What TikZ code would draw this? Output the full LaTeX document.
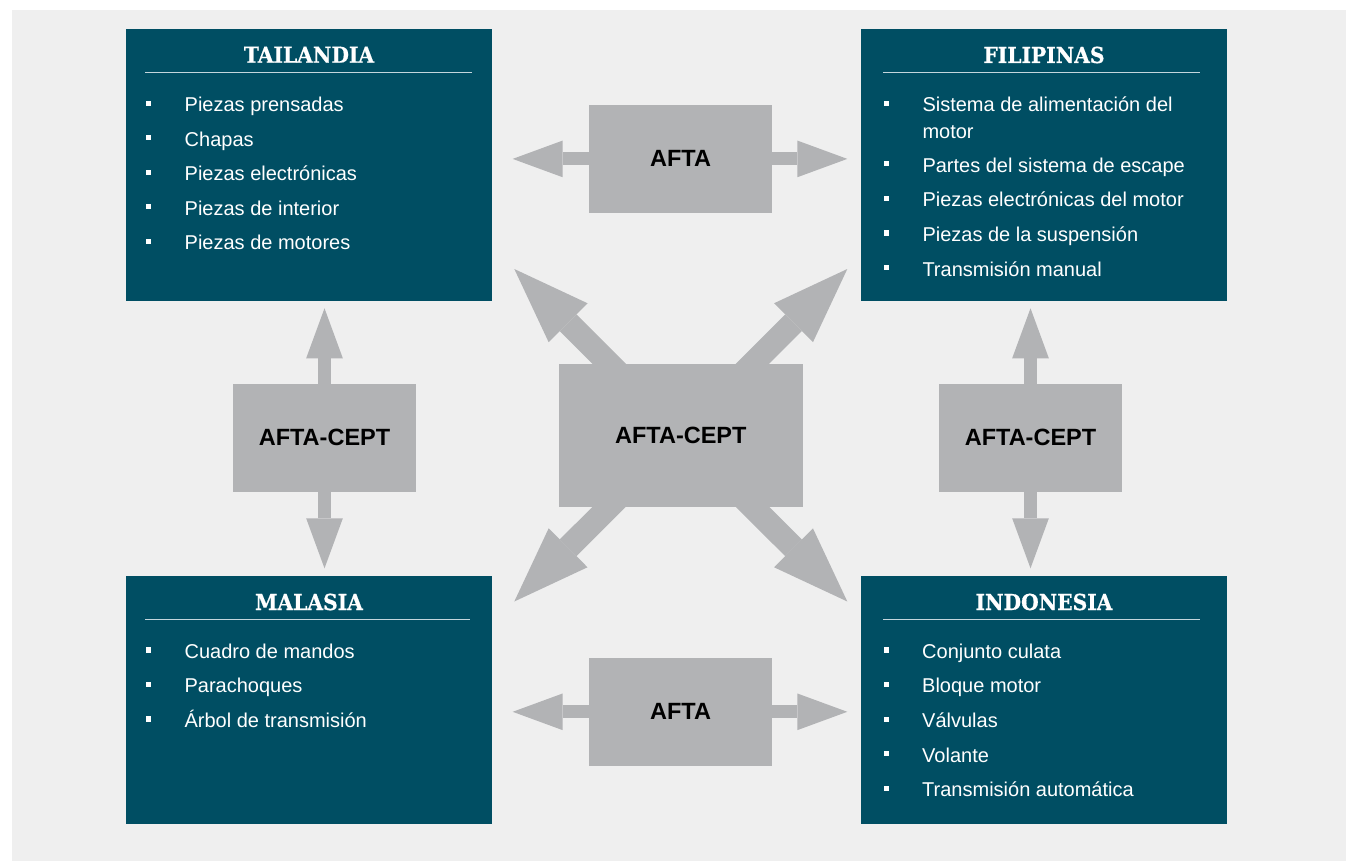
\documentclass[tikz,border=0pt]{standalone}
\usepackage{fontspec}
\setmainfont{Liberation Sans}
\newfontfamily\headfont{DejaVu Serif}[BoldFeatures={FakeStretch=0.92,FakeBold=0.6}]
\usetikzlibrary{arrows.meta}

\definecolor{panelgray}{RGB}{239,239,239}
\definecolor{countryteal}{RGB}{0,78,99}
\definecolor{blockgray}{RGB}{178,179,181}
\definecolor{rulecol}{RGB}{196,214,221}

\pgfdeclarelayer{panel}
\pgfdeclarelayer{links}
\pgfsetlayers{panel,links,main}

\tikzset{
  country/.style={fill=countryteal, inner sep=0pt, minimum width=366pt, minimum height=#1},
  heading/.style={anchor=base, inner sep=0pt, text=white,
    font=\headfont\bfseries\fontsize{22}{26}\selectfont},
  headrule/.style={draw=rulecol, line width=1.3pt},
  item/.style={anchor=base west, inner sep=0pt, text=white,
    font=\fontsize{20}{24}\selectfont},
  bulletmark/.style={fill=white, inner sep=0pt, minimum size=5.2pt},
  tradebox/.style={fill=blockgray, inner sep=0pt, text=black,
    font=\bfseries\fontsize{23.5}{28}\selectfont},
  hvlink/.style={draw=blockgray, line width=13pt,
    -{Triangle[length=50pt, width=36.7pt, line width=0pt]}},
  diaglink/.style={draw=blockgray, line width=23.6pt,
    -{Triangle[length=76pt, width=55pt, line width=0pt]}}
}

\begin{document}
\begin{tikzpicture}[x=1pt, y=-1pt]
\useasboundingbox (0,0) rectangle (1346,861);

\begin{pgfonlayer}{panel}
  \fill[white] (0,0) rectangle (1346,861);
  \fill[panelgray] (12,10) rectangle (1346,861);
\end{pgfonlayer}

% country boxes
\node[country=272pt] (thai) at (309,165) {};
\node[country=272pt] (phil) at (1044,165) {};
\node[country=248pt] (malay) at (309,700) {};
\node[country=248pt] (indo) at (1044,700) {};

% headings and rules
\node[heading] (thaiT) at (309,62.7) {TAILANDIA};
\node[heading] (philT) at (1044,63) {FILIPINAS};
\node[heading] (malayT) at (309,610) {MALASIA};
\node[heading] (indoT) at (1044,610) {INDONESIA};
\draw[headrule] (145,72.5) -- (472,72.5);
\draw[headrule] (883,72.5) -- (1200,72.5);
\draw[headrule] (145,619.7) -- (470,619.7);
\draw[headrule] (883,619.7) -- (1200,619.7);

% Tailandia items
\foreach \txt [count=\i from 0] in {Piezas prensadas, Chapas, Piezas electrónicas, Piezas de interior, Piezas de motores} {
  \node[item] (thai-\i) at (184.5,{111.7+34.5*\i}) {\txt};
  \node[bulletmark] (thaiB-\i) at (148.5,{103.3+34.5*\i}) {};
}

% Filipinas items
\node[item] (phil-0) at (922.3,111.7) {Sistema de alimentación del};
\node[item] (phil-0b) at (922.3,138.3) {motor};
\node[item] (phil-1) at (922.3,172.3) {Partes del sistema de escape};
\node[item] (phil-2) at (922.3,206.7) {Piezas electrónicas del motor};
\node[item] (phil-3) at (922.3,241.4) {Piezas de la suspensión};
\node[item] (phil-4) at (922.3,276) {Transmisión manual};
\foreach \y [count=\i] in {111.7,172.3,206.7,241.4,276} {
  \node[bulletmark] (philB-\i) at (886.5,{\y-8.4}) {};
}

% Malasia items
\foreach \txt [count=\i from 0] in {Cuadro de mandos, Parachoques, Árbol de transmisión} {
  \node[item] (malay-\i) at (184.4,{658.3+34.5*\i}) {\txt};
  \node[bulletmark] (malayB-\i) at (148.5,{649.9+34.5*\i}) {};
}

% Indonesia items
\foreach \txt [count=\i from 0] in {Conjunto culata, Bloque motor, Válvulas, Volante, Transmisión automática} {
  \node[item] (indo-\i) at (922,{658.3+34.6*\i}) {\txt};
  \node[bulletmark] (indoB-\i) at (886.5,{649.9+34.6*\i}) {};
}

% trade agreement boxes
\node[tradebox, minimum width=183pt, minimum height=107.7pt] (aftaTop) at (680.5,158.9) {AFTA};
\node[tradebox, minimum width=183pt, minimum height=107.7pt] (aftaBot) at (680.5,711.8) {AFTA};
\node[tradebox, minimum width=183pt, minimum height=107.7pt] (ceptL) at (324.5,437.8) {AFTA-CEPT};
\node[tradebox, minimum width=183pt, minimum height=107.7pt] (ceptR) at (1030.5,437.8) {AFTA-CEPT};
\node[tradebox, minimum width=243.7pt, minimum height=142.7pt] (ceptC) at (680.8,435.3) {AFTA-CEPT};

% arrow tips
\coordinate (aftaTopL) at (512.7,158.9);
\coordinate (aftaTopR) at (847.3,158.9);
\coordinate (aftaBotL) at (512.7,711.8);
\coordinate (aftaBotR) at (847.3,711.8);
\coordinate (ceptLU) at (324.5,308.3);
\coordinate (ceptLD) at (324.5,568.3);
\coordinate (ceptRU) at (1030.5,308.3);
\coordinate (ceptRD) at (1030.5,568.3);
\coordinate (ceptNW) at (514.3,269);
\coordinate (ceptNE) at (847.3,269);
\coordinate (ceptSW) at (514.3,601.5);
\coordinate (ceptSE) at (847.3,601.5);

\begin{pgfonlayer}{links}
  \draw[hvlink] (aftaTop.center) -- (aftaTopL);
  \draw[hvlink] (aftaTop.center) -- (aftaTopR);
  \draw[hvlink] (aftaBot.center) -- (aftaBotL);
  \draw[hvlink] (aftaBot.center) -- (aftaBotR);
  \draw[hvlink] (ceptL.center) -- (ceptLU);
  \draw[hvlink] (ceptL.center) -- (ceptLD);
  \draw[hvlink] (ceptR.center) -- (ceptRU);
  \draw[hvlink] (ceptR.center) -- (ceptRD);
  \draw[diaglink] (ceptC.center) -- (ceptNW);
  \draw[diaglink] (ceptC.center) -- (ceptNE);
  \draw[diaglink] (ceptC.center) -- (ceptSW);
  \draw[diaglink] (ceptC.center) -- (ceptSE);
\end{pgfonlayer}
\end{tikzpicture}
\end{document}
